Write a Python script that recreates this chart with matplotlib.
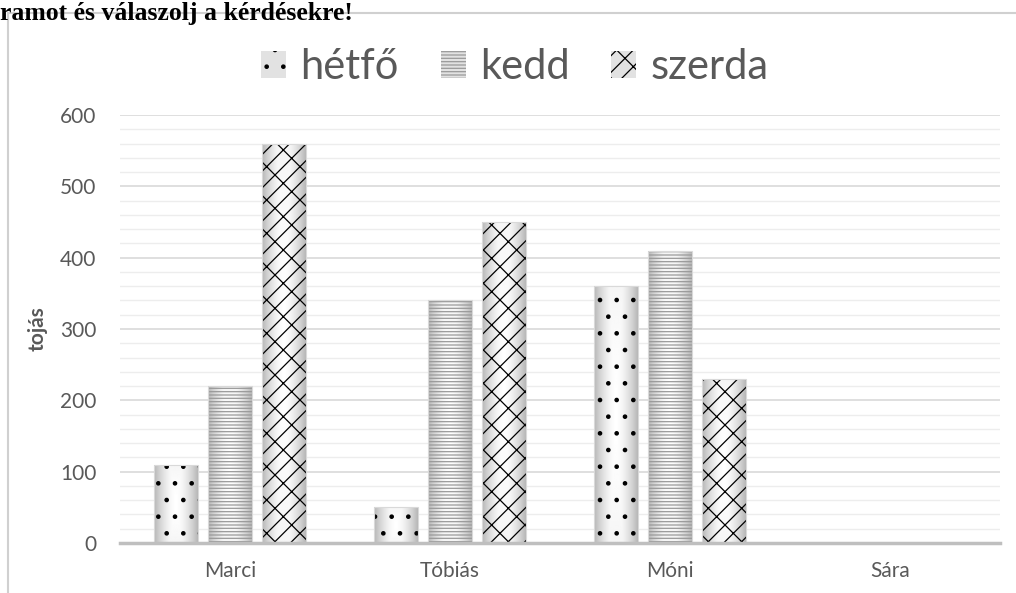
import numpy as np
import matplotlib
matplotlib.use("Agg")
import matplotlib.pyplot as plt
from matplotlib.patches import Patch
from matplotlib.lines import Line2D

categories = ["Marci", "Tóbiás", "Móni", "Sára"]
series_names = ["hétfő", "kedd", "szerda"]
hetfo = [110, 50, 360, 0]
kedd = [220, 340, 410, 0]
szerda = [560, 450, 230, 0]
yticks = [0, 100, 200, 300, 400, 500, 600]
ylabel = "tojás"
header = "ramot és válaszolj a kérdésekre!"

series = [hetfo, kedd, szerda]
hatches = [".", "-----", "/x"]
hatch_colors = ["#000000", "#9a9a9a", "#000000"]

plt.rcParams['font.family'] = ['Lato', 'DejaVu Sans']
plt.rcParams['hatch.linewidth'] = 0.9

fig = plt.figure(figsize=(10.16, 5.93), dpi=100)
ax = fig.add_axes([120/1016, 50/593, 880/1016, 428/593])

# gradient image (dark edges, light center)
gx = np.linspace(-1, 1, 64)
gy = np.linspace(-1, 1, 64)
GX, GY = np.meshgrid(gx, gy)
grad = np.maximum(np.abs(GX), np.abs(GY) * 0.3)
grad = 1 - 0.28 * grad ** 1.6

n = len(categories)
x = np.arange(n)
bw = 0.2
gap = 0.045
offsets = [-(bw + gap), 0, bw + gap]

for si, vals in enumerate(series):
    xs = x + offsets[si]
    bars = ax.bar(xs, vals, width=bw, color="#e6e6e6", edgecolor="none", zorder=2)
    for b in bars:
        h = b.get_height()
        if h <= 0:
            continue
        x0 = b.get_x()
        im = ax.imshow(grad, cmap="gray", vmin=0, vmax=1, aspect="auto",
                       extent=[x0, x0 + bw, 0, h], zorder=2.1, interpolation="bilinear")
        im.set_clip_path(b)
    ax.bar(xs, vals, width=bw, color="none", edgecolor=hatch_colors[si],
           hatch=hatches[si], linewidth=0, zorder=2.2)
    ax.bar(xs, vals, width=bw, color="none", edgecolor="#d9d9d9",
           linewidth=0.8, zorder=2.3)

ax.set_xlim(-0.5, n - 0.5)
ax.set_ylim(0, 600)
ax.set_yticks(yticks)
ax.set_yticks(np.arange(0, 601, 20), minor=True)
ax.yaxis.grid(True, which="major", color="#d9d9d9", linewidth=1.2, zorder=0)
ax.yaxis.grid(True, which="minor", color="#ededed", linewidth=1.0, zorder=0)
ax.set_axisbelow(True)
for s in ["top", "right", "left"]:
    ax.spines[s].set_visible(False)
ax.spines["bottom"].set_color("#bfbfbf")
ax.spines["bottom"].set_linewidth(2.5)
ax.spines["bottom"].set_zorder(3)
ax.set_xticks(x)
ax.set_xticklabels(categories)
ax.tick_params(axis="both", which="both", length=0, labelsize=15, labelcolor="#595959")
ax.tick_params(axis="x", pad=13)
ax.tick_params(axis="y", pad=17)
ax.set_ylabel(ylabel, fontsize=15, fontweight="bold", color="#595959")
ax.yaxis.set_label_coords(-72/880, 0.5)

handles = [Patch(facecolor="#e2e2e2", edgecolor=hatch_colors[i], hatch=hatches[i], linewidth=0)
           for i in range(3)]
leg = fig.legend(handles, series_names, loc="center", bbox_to_anchor=(515/1016, 1 - 67/593),
                 ncol=3, frameon=False, fontsize=30, handlelength=0.6, handleheight=0.6,
                 handletextpad=0.35, columnspacing=1.0)
for t in leg.get_texts():
    t.set_color("#595959")

# page frame lines and header text
fig.add_artist(Line2D([8/1016, 8/1016], [0, 1 - 13/593], transform=fig.transFigure,
                      color="#d0d0d0", linewidth=1.5))
fig.add_artist(Line2D([8/1016, 1], [1 - 13/593, 1 - 13/593], transform=fig.transFigure,
                      color="#d0d0d0", linewidth=1.5))
fig.text(0, 1 - 20/593, header, family=["Liberation Serif"], fontweight="bold",
         fontsize=18.5, ha="left", va="baseline", color="black")

fig.savefig("out.png", dpi=100, facecolor="white")
